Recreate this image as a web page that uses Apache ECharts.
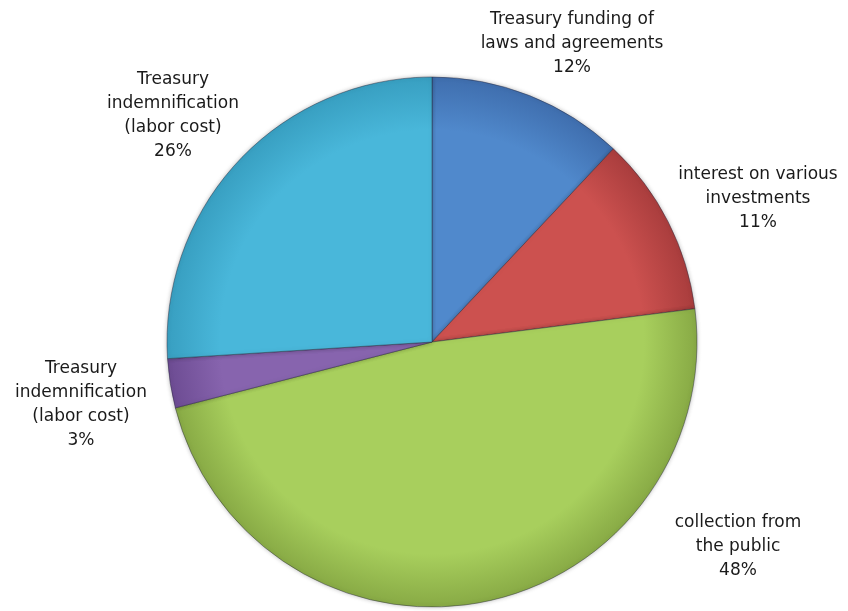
<!DOCTYPE html>
<html>
<head>
<meta charset="utf-8">
<script src="https://cdn.jsdelivr.net/npm/echarts@6/dist/echarts.min.js"></script>
<style>
  html, body { margin: 0; padding: 0; background: #fff; }
  #chart { width: 848px; height: 611px; }
</style>
</head>
<body>
<div id="chart"></div>
<script>
// slice names and shares (%), clockwise from 12 o'clock
const names = [
  'Treasury funding of\nlaws and agreements',
  'interest on various\ninvestments',
  'collection from\nthe public',
  'Treasury\nindemnification\n(labor cost)',
  'Treasury\nindemnification\n(labor cost)'
]
const values = [12, 11, 48, 3, 26]

// [inner, outer] shade of each slice
const colors = [
  ['#5089cc', '#3f6eae'],
  ['#cc514f', '#a93d3d'],
  ['#a8cf5d', '#88aa45'],
  ['#8764ae', '#6d4c93'],
  ['#49b7da', '#389fc1']
]

// where each label block sits (centre), px
const labelPos = [[572, 44], [758, 199], [738, 547], [81, 405], [173, 116]]

const cx = 432, cy = 342, r = 265

const chart = echarts.init(document.getElementById('chart'))

chart.setOption({
  backgroundColor: '#fff',
  animation: false,
  series: [{
    type: 'pie',
    center: [cx, cy],
    radius: r,
    startAngle: 90,
    clockwise: true,
    data: names.map((n, i) => ({
      name: n,
      value: values[i],
      itemStyle: {
        color: new echarts.graphic.RadialGradient(cx, cy, r, [
          { offset: 0, color: colors[i][0] },
          { offset: 0.8, color: colors[i][0] },
          { offset: 1, color: colors[i][1] }
        ], true)
      }
    })),
    itemStyle: {
      borderColor: 'rgba(40,40,60,0.45)',
      borderWidth: 1,
      shadowColor: 'rgba(0,0,0,0.25)',
      shadowBlur: 4
    },
    label: {
      show: true,
      position: 'outside',
      formatter: p => p.name + '\n' + p.value + '%',
      fontFamily: 'DejaVu Sans',
      fontSize: 17,
      lineHeight: 24,
      color: '#1a1a1a',
      align: 'center',
      overflow: 'none'
    },
    labelLine: { show: false },
    labelLayout: p => ({
      x: labelPos[p.dataIndex][0],
      y: labelPos[p.dataIndex][1],
      align: 'center',
      verticalAlign: 'middle'
    }),
    emphasis: { disabled: true }
  }]
})
</script>
</body>
</html>
